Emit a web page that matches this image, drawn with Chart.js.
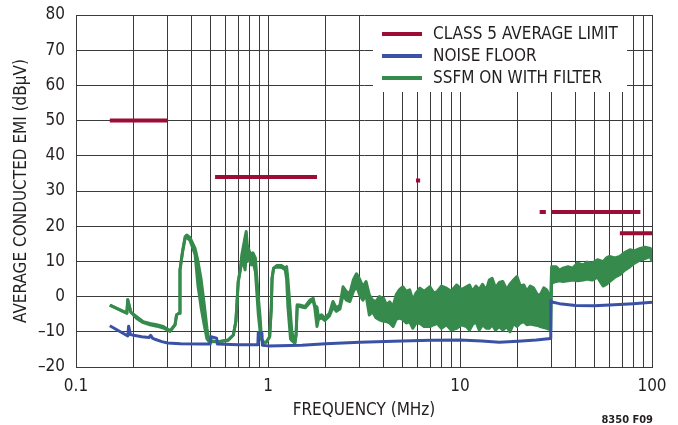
<!DOCTYPE html>
<html>
<head>
<meta charset="utf-8">
<title>Average conducted EMI</title>
<script src="https://cdn.jsdelivr.net/npm/chart.js@4.4.1/dist/chart.umd.min.js"></script>
<style>
    html, body { margin: 0; padding: 0; background: #fff; }
    #wrap { width: 678px; height: 425px; }
</style>
</head>
<body>
<div id="wrap"><canvas id="emiChart" width="678" height="425"></canvas></div>
<script>
// Gridline positions (MHz) and the labelled ones
var gridFreqs = [0.1, 0.2, 0.3, 0.4, 0.5, 0.6, 0.7, 0.8, 0.9,
                 1, 2, 3, 4, 5, 6, 7, 8, 9,
                 10, 20, 30, 40, 50, 60, 70, 80, 90, 100];
var labelFreqs = [0.1, 1, 10, 100];
var xTickLabels = ['0.1', '1', '10', '100'];

// Class 5 average limit segments
var limitStart = [0.15, 0.53, 5.9, 26, 30, 68];
var limitEnd   = [0.3, 1.8, 6.2, 28, 87, 108];
var limitLevel = [50, 34, 33, 24, 24, 18];

// Noise floor
var noiseFreq = [0.15, 0.186, 0.188, 0.192, 0.2, 0.22, 0.24, 0.245, 0.25, 0.26, 0.28, 0.3, 0.35, 0.45,
                 0.5, 0.505, 0.54, 0.545, 0.7, 0.885, 0.89, 0.93, 0.935, 1.0, 1.5, 2.0, 3.0,
                 5.0, 7.0, 10, 13, 16, 20, 25, 29.6, 29.7, 30.5, 33, 40, 50, 60, 80, 100];
var noiseVal  = [-8.3, -11.2, -8.4, -10.8, -11.0, -11.4, -11.6, -11.0, -11.8, -12.2, -12.8, -13.2, -13.4, -13.5,
                 -13.5, -11.4, -11.8, -13.5, -13.7, -13.7, -10.2, -10.4, -13.8, -14.0, -13.8, -13.4, -13.0,
                 -12.6, -12.4, -12.3, -12.6, -13.0, -12.7, -12.3, -11.9, -1.2, -1.6, -2.0, -2.5, -2.6, -2.4, -2.0, -1.6];

// SSFM on with filter: upper and lower edge of the trace
var greenFreq = [0.15, 0.184, 0.186, 0.193, 0.207, 0.224, 0.243, 0.263, 0.285, 0.309, 0.328, 0.334, 0.344,
                 0.348, 0.359, 0.37, 0.377, 0.392, 0.417, 0.432, 0.448, 0.465, 0.481, 0.493, 0.55, 0.62,
                 0.66, 0.68, 0.69, 0.7, 0.72, 0.73, 0.76, 0.77, 0.78, 0.8, 0.82, 0.835, 0.86, 0.87, 0.89,
                 0.91, 0.925, 0.94, 0.98, 1.02, 1.04, 1.05, 1.07, 1.11, 1.18, 1.23, 1.25, 1.27, 1.31, 1.33,
                 1.38, 1.4, 1.42, 1.46, 1.56, 1.66, 1.72, 1.75, 1.8, 1.83, 1.9, 1.98, 2.09, 2.18, 2.27,
                 2.37, 2.46, 2.56, 2.67, 2.78, 2.89, 3.0, 3.12, 3.24, 3.37, 3.5, 3.65, 3.8, 4.0, 4.15,
                 4.3, 4.48, 4.65, 4.83, 5.03, 5.25, 5.47, 5.68, 5.9, 6.18, 6.5, 6.97, 7.3, 7.6, 8.0, 8.5,
                 9.0, 9.6, 10.2, 10.8, 11.2, 11.6, 12.1, 12.6, 13.1, 13.7, 14.2, 14.7, 15.3, 16.0, 16.7,
                 17.5, 18.2, 19.0, 19.8, 20.6, 21.5, 22.3, 23.2, 24.2, 25.3, 26.2, 27.3, 28.3, 29.2, 29.7,
                 30.0, 31.7, 33.0, 34.4, 36.5, 38.7, 41.0, 43.8, 46.0, 48.7, 52.0, 55.6, 58.0, 60.1, 64.0,
                 68.0, 72.0, 76.8, 81.0, 86.8, 92.0, 98.0, 100];
var greenHi = [-2.4, -4.7, -0.9, -4.4, -5.7, -7.1, -7.6, -8.0, -8.5, -9.7, -8.0, -5.2, -4.7,
               7.6, 12.8, 17.0, 17.5, 16.8, 13.7, 10.0, 5.0, -2.0, -9.0, -12.5, -12.8, -12.3,
               -10.9, -7.1, -1.4, 4.3, 8.1, 11.8, 17.0, 18.5, 14.7, 12.8, 11.8, 12.4, 10.9, 7.1, 0.0,
               -6.0, -12.0, -13.0, -13.0, -11.4, -3.3, 5.2, 8.1, 8.8, 8.8, 8.1, 8.5, 5.0, -5.0, -9.9,
               -13.2, -10.9, -2.4, -2.4, -2.8, -0.9, -0.5, -2.4, -3.0, -5.7, -5.2, -6.1, -4.7, -1.4, -3.3,
               -2.4, 2.8, 1.4, 1.0, 4.7, 6.5, 5.0, 2.8, 4.3, 0.5, -1.0, -1.4, 0.0, -0.5, -2.4,
               -1.5, -2.8, 0.5, 1.9, 2.8, 1.5, 1.9, -1.0, 1.0, 2.4, 1.5, 2.8, 1.0, 1.4, 3.0, 2.4,
               1.5, 3.3, 2.0, 2.8, 3.3, 1.5, 3.0, 2.0, 3.5, 1.8, 4.7, 5.2, 2.5, 4.0, 4.3,
               2.0, 3.5, 4.7, 5.7, 3.0, 3.3, 1.5, 3.0, 2.4, 0.5, 0.5, 2.5, 1.9, 0.0, 0.0,
               8.5, 8.5, 7.5, 8.1, 8.5, 8.1, 9.5, 9.0, 9.8, 9.5, 10.5, 9.9, 11.0, 11.4, 11.0,
               11.4, 12.5, 13.3, 13.0, 13.7, 14.0, 13.7, 12.0];
var greenLo = [-2.4, -4.7, -0.9, -4.4, -6.2, -7.4, -8.0, -8.4, -8.9, -9.9, -8.0, -5.2, -4.7,
               7.6, 12.8, 16.5, 16.8, 16.0, 12.0, 3.0, -3.0, -8.0, -12.0, -12.8, -12.8, -12.5,
               -10.9, -7.1, -1.4, 4.3, 8.1, 11.0, 7.6, 12.0, 10.0, 10.5, 9.0, 10.0, 7.0, 3.0, -5.0,
               -10.0, -12.0, -13.0, -13.0, -11.4, -3.3, 5.2, 8.1, 8.4, 8.3, 7.5, 5.0, -3.0, -12.0, -12.5,
               -13.2, -10.9, -2.4, -2.8, -3.2, -1.6, -1.2, -3.0, -8.5, -6.5, -6.0, -6.8, -5.5, -3.0, -4.2,
               -3.5, 0.5, -1.0, -1.4, 1.4, 3.0, 0.5, -1.0, 0.5, -5.2, -4.3, -6.0, -6.6, -7.0, -7.1,
               -7.5, -8.5, -6.5, -6.1, -6.5, -7.5, -7.1, -9.0, -7.5, -7.6, -8.5, -8.5, -8.0, -7.6, -9.0, -8.0,
               -9.5, -9.0, -8.0, -8.5, -9.5, -8.0, -7.1, -9.5, -8.0, -9.0, -9.0, -8.0, -9.5, -8.5, -9.5,
               -8.5, -10.0, -7.6, -8.5, -7.5, -7.1, -8.0, -7.8, -8.0, -8.2, -8.5, -8.8, -9.0, -9.3, -9.5,
               3.8, 4.3, 4.5, 4.3, 4.5, 4.7, 4.5, 4.7, 5.0, 4.7, 5.5, 3.0, 3.5, 4.3, 5.5,
               6.2, 7.5, 8.5, 9.5, 10.4, 10.8, 11.4, 9.9];

var limitColor = '#9c0d36';
var noiseColor = '#3a52a6';
var greenColor = '#358a4c';
var textColor = '#231f20';
var gridColor = '#3a3a3a';
var fontFamily = "'Liberation Sans Narrow', 'DejaVu Sans Condensed', 'Liberation Sans', sans-serif";

function toPoints(xs, ys) {
    return xs.map(function(x, i) { return { x: x, y: ys[i] }; });
}

// limit segments separated by gaps
function limitPoints() {
    var pts = [];
    for (var i = 0; i < limitStart.length; i++) {
        pts.push({ x: limitStart[i], y: limitLevel[i] });
        pts.push({ x: limitEnd[i], y: limitLevel[i] });
        pts.push({ x: limitEnd[i] * 1.001, y: null });
    }
    return pts;
}

// Fills the area between a dataset and the one named in its bandOf
var bandFill = {
    id: 'bandFill',
    beforeDatasetsDraw: function(chart) {
        var a = chart.chartArea;
        var ctx = chart.ctx;
        ctx.save();
        ctx.beginPath();
        ctx.rect(a.left, a.top, a.right - a.left, a.bottom - a.top);
        ctx.clip();
        chart.data.datasets.forEach(function(d, i) {
            if (d.bandOf === undefined) return;
            var lo = chart.getDatasetMeta(i).data;
            var hi = chart.getDatasetMeta(d.bandOf).data;
            ctx.fillStyle = d.borderColor;
            ctx.beginPath();
            hi.forEach(function(p, k) {
                if (k === 0) ctx.moveTo(p.x, p.y); else ctx.lineTo(p.x, p.y);
            });
            for (var k = lo.length - 1; k >= 0; k--) ctx.lineTo(lo[k].x, lo[k].y);
            ctx.closePath();
            ctx.fill();
        });
        ctx.restore();
    }
};

// White legend box inside the plot, drawn over the grid
var legendBox = {
    id: 'legendBox',
    beforeDatasetsDraw: function(chart) {
        var a = chart.chartArea;
        var ctx = chart.ctx;
        ctx.save();
        ctx.fillStyle = '#fff';
        ctx.fillRect(a.right - 279, a.top + 1, 254, 76);
        ctx.restore();
    },
    afterDraw: function(chart) {
        var a = chart.chartArea;
        var ctx = chart.ctx;
        var items = chart.data.datasets.filter(function(d) { return d.label; });
        ctx.save();
        ctx.font = '17px ' + fontFamily;
        ctx.textBaseline = 'middle';
        ctx.fillStyle = textColor;
        items.forEach(function(d, i) {
            var y = a.top + 19 + i * 22;
            ctx.strokeStyle = d.borderColor;
            ctx.lineWidth = 4;
            ctx.beginPath();
            ctx.moveTo(a.right - 270, y);
            ctx.lineTo(a.right - 230, y);
            ctx.stroke();
            ctx.fillText(d.label, a.right - 219, y + 1);
        });
        // figure number
        ctx.font = 'bold 11px ' + fontFamily;
        ctx.textAlign = 'right';
        ctx.fillText('8350 F09', a.right + 1, 420);
        ctx.restore();
    }
};

document.addEventListener('DOMContentLoaded', function() {
    var ctx = document.getElementById('emiChart');

    new Chart(ctx, {
        type: 'line',
        data: {
            datasets: [{
                label: 'CLASS 5 AVERAGE LIMIT',
                data: limitPoints(),
                borderColor: limitColor,
                borderWidth: 4,
                borderCapStyle: 'butt',
                spanGaps: false,
                pointRadius: 0,
                fill: false
            }, {
                label: 'NOISE FLOOR',
                data: toPoints(noiseFreq, noiseVal),
                borderColor: noiseColor,
                borderWidth: 3,
                pointRadius: 0,
                fill: false
            }, {
                label: 'SSFM ON WITH FILTER',
                data: toPoints(greenFreq, greenHi),
                borderColor: greenColor,
                borderWidth: 3,
                pointRadius: 0,
                fill: false
            }, {
                label: '',
                data: toPoints(greenFreq, greenLo),
                borderColor: greenColor,
                borderWidth: 3,
                pointRadius: 0,
                fill: false,
                bandOf: 2
            }]
        },
        options: {
            responsive: false,
            animation: false,
            devicePixelRatio: 1,
            layout: {
                padding: { left: 0, right: 26, top: 15, bottom: 0 }
            },
            plugins: {
                legend: { display: false },
                tooltip: { enabled: false }
            },
            elements: {
                line: { tension: 0, borderJoinStyle: 'round' }
            },
            scales: {
                x: {
                    type: 'logarithmic',
                    min: 0.1,
                    max: 100,
                    afterBuildTicks: function(scale) {
                        scale.ticks = gridFreqs.map(function(v) { return { value: v }; });
                    },
                    afterFit: function(scale) {
                        scale.height = 58;
                        scale.paddingLeft = 0;
                        scale.paddingRight = 0;
                    },
                    grid: { color: gridColor, lineWidth: 1, drawTicks: false },
                    border: { color: gridColor, width: 1 },
                    ticks: {
                        autoSkip: false,
                        maxRotation: 0,
                        padding: 9,
                        color: textColor,
                        font: { family: fontFamily, size: 17 },
                        callback: function(value) {
                            var i = labelFreqs.indexOf(value);
                            return i >= 0 ? xTickLabels[i] : '';
                        }
                    },
                    title: {
                        display: true,
                        text: 'FREQUENCY (MHz)',
                        color: textColor,
                        font: { family: fontFamily, size: 17 },
                        padding: { top: 0, bottom: 4 }
                    }
                },
                y: {
                    type: 'linear',
                    min: -20,
                    max: 80,
                    afterFit: function(scale) {
                        scale.width = 76;
                        scale.paddingTop = 0;
                        scale.paddingBottom = 0;
                    },
                    grid: { color: gridColor, lineWidth: 1, drawTicks: false },
                    border: { color: gridColor, width: 1 },
                    ticks: {
                        stepSize: 10,
                        padding: 11,
                        color: textColor,
                        font: { family: fontFamily, size: 17 },
                        callback: function(value) {
                            return value < 0 ? '\u2013' + Math.abs(value) : String(value);
                        }
                    },
                    title: {
                        display: true,
                        text: 'AVERAGE CONDUCTED EMI (dB\u03bcV)',
                        color: textColor,
                        font: { family: fontFamily, size: 17 },
                        padding: { top: 11, bottom: 0 }
                    }
                }
            }
        },
        plugins: [legendBox, bandFill]
    });
});
</script>
</body>
</html>
